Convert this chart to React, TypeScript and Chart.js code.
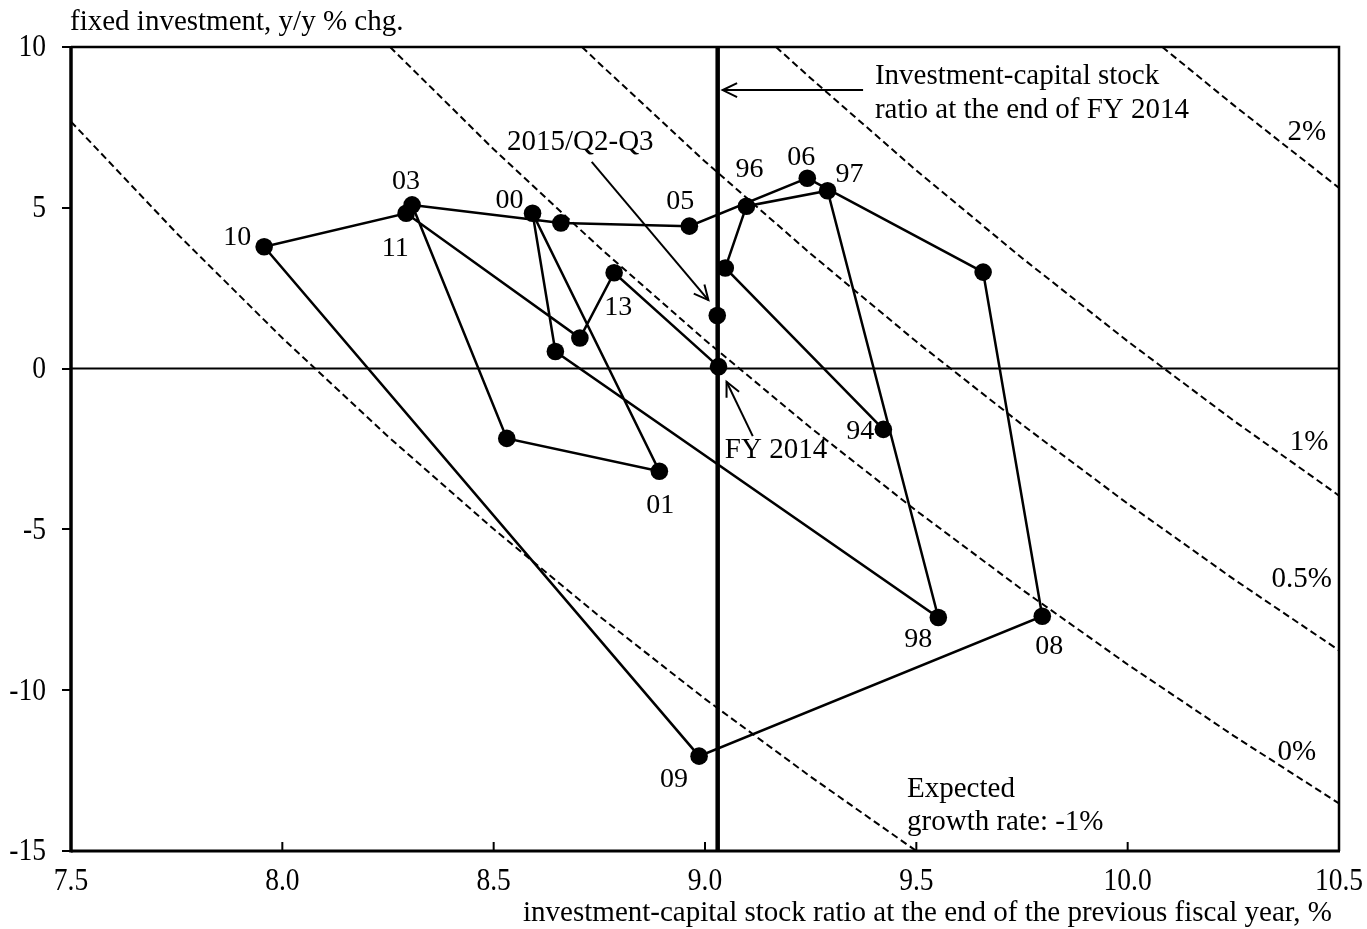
import React, { useEffect, useRef } from 'react';
import { Chart, registerables } from 'chart.js';

Chart.register(...registerables);

// ---------------- DATA ----------------
const YEAR_LABELS = ['94', '95', '96', '97', '98', '99', '00', '01', '02', '03', '04', '05', '06', '07', '08', '09', '10', '11', '12', '13', 'FY 2014'];
const CAPITAL_RATIO = [9.422, 9.048, 9.098, 9.29, 9.552, 8.646, 8.592, 8.892, 8.531, 8.307, 8.659, 8.963, 9.242, 9.658, 9.798, 8.986, 7.957, 8.293, 8.704, 8.785, 9.032];
const INVEST_GROWTH = [-1.89, 3.13, 5.05, 5.53, -7.74, 0.53, 4.83, -3.19, -2.17, 5.09, 4.53, 4.43, 5.92, 3.0, -7.7, -12.05, 3.79, 4.83, 0.95, 2.98, 0.06];

const LATEST_LABEL = '2015/Q2-Q3';
const LATEST_RATIO = 9.029;
const LATEST_GROWTH = 1.65;

const FY2014_RATIO = 9.03;

const X_TICKS = [7.5, 8.0, 8.5, 9.0, 9.5, 10.0, 10.5];
const Y_TICKS = [-15, -10, -5, 0, 5, 10];

// iso expected-growth curves
const CURVE_NAMES = ['-1%', '0%', '0.5%', '1%', '2%'];
const CURVE_M1_X = [7.5, 7.75, 8.0, 8.25, 8.5, 8.75, 9.0, 9.25, 9.5];
const CURVE_M1_Y = [7.68, 4.21, 0.95, -2.11, -4.99, -7.7, -10.27, -12.69, -15.0];
const CURVE_0_X = [8.255, 8.5, 8.75, 9.0, 9.25, 9.5, 9.75, 10.0, 10.25, 10.5];
const CURVE_0_Y = [10.0, 6.82, 3.77, 0.89, -1.84, -4.42, -6.87, -9.2, -11.41, -13.52];
const CURVE_05_X = [8.709, 8.75, 9.0, 9.25, 9.5, 9.75, 10.0, 10.25, 10.5];
const CURVE_05_Y = [10.0, 9.49, 6.44, 3.57, 0.84, -1.74, -4.2, -6.54, -8.76];
const CURVE_1_X = [9.168, 9.25, 9.5, 9.75, 10.0, 10.25, 10.5];
const CURVE_1_Y = [10.0, 9.03, 6.16, 3.44, 0.85, -1.61, -3.95];
const CURVE_2_X = [10.082, 10.25, 10.5];
const CURVE_2_Y = [10.0, 8.2, 5.62];

const Y_TITLE = 'fixed investment, y/y % chg.';
const X_TITLE = 'investment-capital stock ratio at the end of the previous fiscal year, %';

// ---------------- LAYOUT / STYLE ----------------
const FONT = "'Liberation Serif', 'Times New Roman', Times, serif";
const TICK_SIZE = 32;
const TICK_SQUEEZE = 0.86;
const LABEL_SIZE = 28;
const TEXT_SIZE = 29;

// pixel offsets of year labels from their markers
const LABEL_OFFSETS: Record<string, [number, number]> = {
  '94': [-23, 2],
  '96': [3, -37],
  '06': [-6, -21],
  '97': [22, -16],
  '00': [-23, -13],
  '05': [-9, -24],
  '13': [4, 35],
  '01': [1, 34],
  '03': [-6, -23],
  '11': [-11, 35],
  '10': [-27, -9],
  '98': [-20, 22],
  '08': [7, 30],
  '09': [-25, 24],
};

const zip = (xs: number[], ys: number[]) => xs.map((x, i) => ({ x, y: ys[i] }));

function drawArrow(ctx: CanvasRenderingContext2D, x1: number, y1: number, x2: number, y2: number) {
  ctx.beginPath();
  ctx.moveTo(x1, y1);
  ctx.lineTo(x2, y2);
  ctx.stroke();
  const ang = Math.atan2(y2 - y1, x2 - x1);
  const len = 16;
  const spread = 0.45;
  ctx.beginPath();
  ctx.moveTo(x2 - len * Math.cos(ang - spread), y2 - len * Math.sin(ang - spread));
  ctx.lineTo(x2, y2);
  ctx.lineTo(x2 - len * Math.cos(ang + spread), y2 - len * Math.sin(ang + spread));
  ctx.stroke();
}

function squeezedText(ctx: CanvasRenderingContext2D, text: string, x: number, y: number, align: CanvasTextAlign) {
  ctx.save();
  ctx.translate(x, y);
  ctx.scale(TICK_SQUEEZE, 1);
  ctx.textAlign = align;
  ctx.fillText(text, 0, 0);
  ctx.restore();
}

const overlayPlugin = {
  id: 'overlay',
  afterDraw(chart: any) {
    const { ctx, chartArea: a, scales } = chart;
    const xs = scales.x;
    const ys = scales.y;
    const px = (v: number) => xs.getPixelForValue(v);
    const py = (v: number) => ys.getPixelForValue(v);
    ctx.save();
    ctx.strokeStyle = '#000';
    ctx.fillStyle = '#000';
    ctx.lineCap = 'butt';

    // frame
    ctx.lineWidth = 2.5;
    ctx.beginPath();
    ctx.moveTo(a.left, a.top);
    ctx.lineTo(a.right, a.top);
    ctx.lineTo(a.right, a.bottom);
    ctx.stroke();
    ctx.lineWidth = 3.5;
    ctx.beginPath();
    ctx.moveTo(a.left, a.top - 1);
    ctx.lineTo(a.left, a.bottom + 1.5);
    ctx.stroke();
    ctx.lineWidth = 3;
    ctx.beginPath();
    ctx.moveTo(a.left, a.bottom);
    ctx.lineTo(a.right + 1, a.bottom);
    ctx.stroke();

    // inward x ticks
    ctx.lineWidth = 2;
    X_TICKS.slice(1, -1).forEach((v) => {
      ctx.beginPath();
      ctx.moveTo(px(v), a.bottom);
      ctx.lineTo(px(v), a.bottom - 9);
      ctx.stroke();
    });

    // tick labels (condensed serif like the reference)
    ctx.font = `${TICK_SIZE}px ${FONT}`;
    ctx.textBaseline = 'middle';
    xs.ticks.forEach((t: any) => {
      squeezedText(ctx, Number(t.value).toFixed(1), px(t.value), a.bottom + 31, 'center');
    });
    ys.ticks.forEach((t: any) => {
      squeezedText(ctx, String(t.value), a.left - 25, py(t.value) + 1, 'right');
    });

    // axis titles
    ctx.font = `${TEXT_SIZE}px ${FONT}`;
    ctx.textBaseline = 'middle';
    ctx.textAlign = 'left';
    ctx.fillText(Y_TITLE, a.left - 1, a.top - 25);
    ctx.textAlign = 'right';
    ctx.fillText(X_TITLE, a.right - 7, a.bottom + 62);

    // year labels
    ctx.font = `${LABEL_SIZE}px ${FONT}`;
    ctx.textAlign = 'center';
    YEAR_LABELS.forEach((lab, i) => {
      const off = LABEL_OFFSETS[lab];
      if (!off) return;
      ctx.fillText(lab, px(CAPITAL_RATIO[i]) + off[0], py(INVEST_GROWTH[i]) + off[1]);
    });

    // curve labels
    const curveLabelPos: [number, number][] = [[9.478, -13.07], [10.4, -11.92], [10.412, -6.54], [10.429, -2.31], [10.424, 7.33]];
    ctx.font = `${TEXT_SIZE}px ${FONT}`;
    CURVE_NAMES.forEach((name, i) => {
      if (i === 0) {
        ctx.textAlign = 'left';
        ctx.fillText('Expected', px(curveLabelPos[0][0]), py(curveLabelPos[0][1]));
        ctx.fillText('growth rate: ' + name, px(curveLabelPos[0][0]), py(curveLabelPos[0][1]) + 33);
      } else {
        ctx.textAlign = 'center';
        ctx.fillText(name, px(curveLabelPos[i][0]), py(curveLabelPos[i][1]));
      }
    });

    // annotations
    ctx.textAlign = 'left';
    ctx.fillText('Investment-capital stock', px(9.402), py(9.08));
    ctx.fillText('ratio at the end of FY 2014', px(9.402), py(8.04));
    ctx.textAlign = 'center';
    ctx.fillText(LATEST_LABEL, px(8.705), py(7.03));
    ctx.textAlign = 'left';
    ctx.fillText('FY 2014', px(9.047), py(-2.55));

    ctx.lineWidth = 2;
    drawArrow(ctx, px(9.374), py(8.66), px(FY2014_RATIO) + 5, py(8.66));
    drawArrow(ctx, px(8.732), py(6.43), px(9.008), py(2.13));
    drawArrow(ctx, px(9.113), py(-2.1), px(9.051), py(-0.41));

    ctx.restore();
  },
};

export default function App() {
  const ref = useRef<HTMLCanvasElement | null>(null);

  useEffect(() => {
    if (!ref.current) return;
    const pathData = zip(CAPITAL_RATIO, INVEST_GROWTH);
    const curveStyle = {
      borderColor: '#000',
      borderWidth: 2,
      borderDash: [7, 4],
      pointRadius: 0,
      showLine: true,
      fill: false,
      tension: 0,
    };
    const chart = new Chart(ref.current, {
      type: 'scatter',
      data: {
        datasets: [
          {
            label: 'path',
            data: pathData,
            showLine: true,
            borderColor: '#000',
            borderWidth: 2.5,
            pointRadius: 8.8,
            pointBackgroundColor: '#000',
            pointBorderWidth: 0,
            tension: 0,
          },
          {
            label: LATEST_LABEL,
            data: [{ x: LATEST_RATIO, y: LATEST_GROWTH }],
            pointRadius: 8.8,
            pointBackgroundColor: '#000',
            pointBorderWidth: 0,
          },
          {
            label: 'fy2014 ratio',
            data: [{ x: FY2014_RATIO, y: Y_TICKS[0] }, { x: FY2014_RATIO, y: Y_TICKS[Y_TICKS.length - 1] }],
            showLine: true,
            borderColor: '#000',
            borderWidth: 4.5,
            pointRadius: 0,
          },
          {
            label: 'zero',
            data: [{ x: X_TICKS[0], y: 0 }, { x: X_TICKS[X_TICKS.length - 1], y: 0 }],
            showLine: true,
            borderColor: '#000',
            borderWidth: 2,
            pointRadius: 0,
          },
          { label: CURVE_NAMES[0], data: zip(CURVE_M1_X, CURVE_M1_Y), ...curveStyle },
          { label: CURVE_NAMES[1], data: zip(CURVE_0_X, CURVE_0_Y), ...curveStyle },
          { label: CURVE_NAMES[2], data: zip(CURVE_05_X, CURVE_05_Y), ...curveStyle },
          { label: CURVE_NAMES[3], data: zip(CURVE_1_X, CURVE_1_Y), ...curveStyle },
          { label: CURVE_NAMES[4], data: zip(CURVE_2_X, CURVE_2_Y), ...curveStyle },
        ] as any,
      },
      options: {
        animation: false,
        responsive: false,
        maintainAspectRatio: false,
        layout: { padding: { top: 47, right: 28, left: 0, bottom: 0 } },
        plugins: {
          legend: { display: false },
          tooltip: { enabled: false },
        },
        scales: {
          x: {
            type: 'linear',
            min: X_TICKS[0],
            max: X_TICKS[X_TICKS.length - 1],
            afterBuildTicks: (scale: any) => {
              scale.ticks = X_TICKS.map((v) => ({ value: v }));
            },
            afterFit: (scale: any) => {
              scale.height = 78;
              scale.paddingLeft = 0;
              scale.paddingRight = 0;
            },
            grid: { display: false, drawTicks: false },
            border: { display: false },
            ticks: { display: false, autoSkip: false },
          },
          y: {
            type: 'linear',
            min: Y_TICKS[0],
            max: Y_TICKS[Y_TICKS.length - 1],
            afterBuildTicks: (scale: any) => {
              scale.ticks = Y_TICKS.map((v) => ({ value: v }));
            },
            afterFit: (scale: any) => {
              scale.width = 71;
              scale.paddingTop = 0;
              scale.paddingBottom = 0;
            },
            grid: {
              display: true,
              drawOnChartArea: false,
              drawTicks: true,
              tickLength: 9,
              color: '#000',
              lineWidth: 2,
            },
            border: { display: false },
            ticks: { display: false, autoSkip: false },
          },
        },
      },
      plugins: [overlayPlugin],
    });
    return () => chart.destroy();
  }, []);

  return (
    <div style={{ position: 'absolute', left: 0, top: 0, width: 1367, height: 929, background: '#fff' }}>
      <canvas ref={ref} width={1367} height={929} style={{ display: 'block', width: 1367, height: 929 }} />
    </div>
  );
}
